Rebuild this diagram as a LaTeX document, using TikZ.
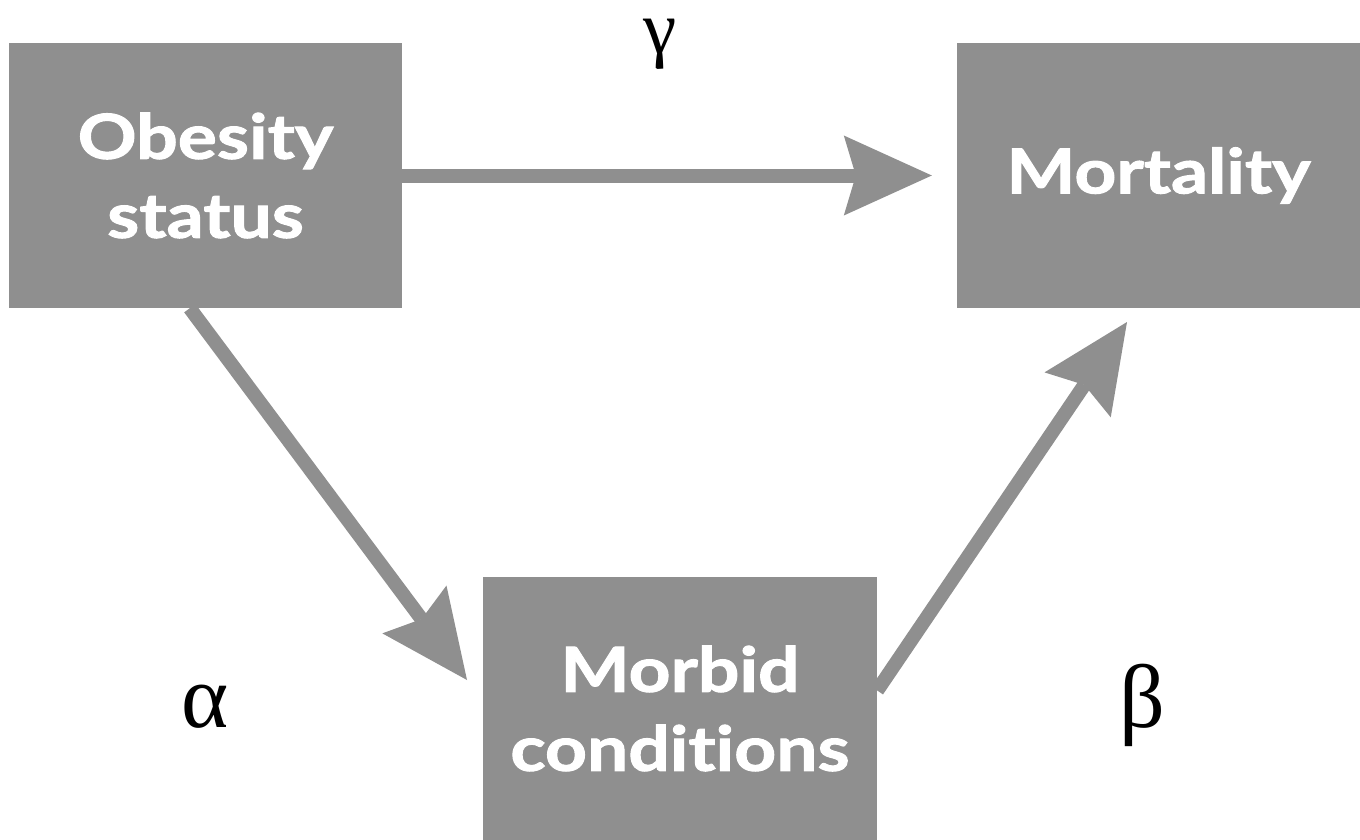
\documentclass[tikz,border=0pt]{standalone}
\usepackage{fontspec}
\newfontfamily\boxfont[Ligatures=NoCommon, BoldFeatures={FakeBold=1.6, FakeStretch=1.18}]{Lato}
\newfontfamily\greekfont{Liberation Serif}
\usetikzlibrary{arrows.meta,calc}
\definecolor{boxgray}{RGB}{143,143,143}
\tikzset{
  box/.style={fill=boxgray, draw=none, inner sep=0pt, align=center, text=white,
    font=\boxfont\bfseries\fontsize{62}{79}\selectfont},
  arr/.style={draw=boxgray, line width=14pt,
    -{Stealth[length=88pt, width=80pt, inset=12pt, fill=boxgray, line width=0pt]}},
  greek/.style={anchor=base, inner sep=0pt, font=\greekfont\fontsize{90}{90}\selectfont}
}
\begin{document}
\begin{tikzpicture}[x=1pt, y=-1pt]
\useasboundingbox (0,0) rectangle (1360,840);
\fill[white] (0,0) rectangle (1360,840);
\node[box, minimum width=393pt, minimum height=265pt] (obesity) at (205.5,175.5) {Obesity\\status};
\node[box, minimum width=403pt, minimum height=265pt] (mortality) at (1158.5,175.5) {Mortality};
\node[box, minimum width=394pt, minimum height=263pt] (morbid) at (680,708.5) {Morbid\\conditions};
\coordinate (atip) at (467,680);
\coordinate (btip) at (1127,322);
\draw[arr, shorten >=25pt] (obesity.east) -- (mortality.west);
\draw[arr] ($(obesity.south west)+(181,0)$) -- (atip);
\draw[arr] ($(morbid.east)+(0,-18)$) -- (btip);
\node[greek, font=\greekfont\fontsize{75}{75}\selectfont] (gamma) at (660,54) {γ};
\node[greek] (alpha) at (205,727) {α};
\node[greek] (beta) at (1142,727) {β};
\end{tikzpicture}
\end{document}
